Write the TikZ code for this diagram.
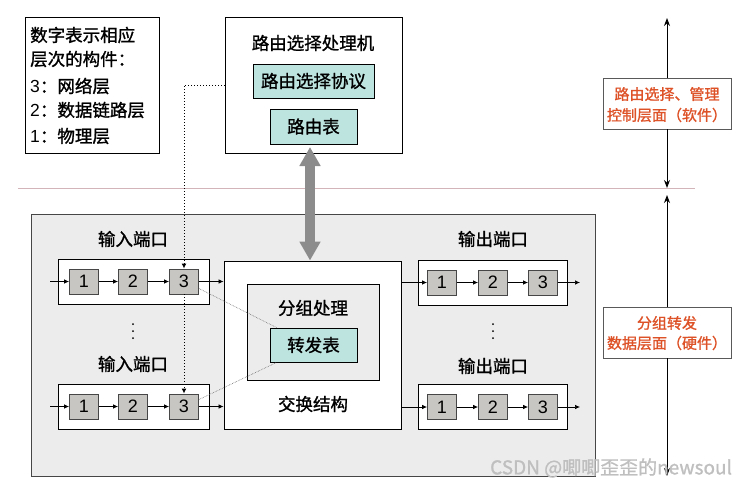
\documentclass[tikz,border=0pt]{standalone}
\usepackage{fontspec}
\setmainfont{Noto Sans CJK SC}[FakeBold=1.2]
\newfontfamily\digitfont{Liberation Sans}
\usetikzlibrary{arrows.meta}
\definecolor{teal1}{RGB}{190,228,224}
\definecolor{boxgray}{RGB}{200,198,194}
\definecolor{panelgray}{RGB}{236,236,236}
\definecolor{redtxt}{RGB}{222,82,40}
\definecolor{sepline}{RGB}{210,180,185}
\definecolor{edgegray}{RGB}{70,70,70}
\begin{document}
\begin{tikzpicture}[x=1pt,y=-1pt,
  txt/.style={inner sep=0pt,font=\fontsize{17.5}{19}\selectfont},
  frame/.style={draw=black,line width=0.9pt,inner sep=0pt},
  tealbox/.style={frame,fill=teal1,font=\fontsize{17.5}{19}\selectfont},
  digit/.style={draw=edgegray,line width=0.9pt,fill=boxgray,minimum width=29pt,minimum height=25pt,inner sep=0pt,font=\digitfont\fontsize{18}{19}\selectfont},
  port/.style={frame,fill=white,minimum width=151pt,minimum height=45pt},
  arr/.style={-{Latex[length=5pt,width=4.5pt]},line width=0.7pt},
  dotarr/.style={dotted,line width=1pt,-{Latex[length=5pt,width=5pt]}},
  thindot/.style={densely dotted,line width=0.6pt,draw=gray!80!black},
  bigarr/.style={line width=10pt,draw=gray!90,{Triangle[length=19pt,width=20pt]}-{Triangle[length=19pt,width=20pt]}},
  axarr/.style={-{Stealth[length=8pt,width=6pt]},line width=1pt},
  plane/.style={draw=gray!70!black,line width=0.8pt,fill=white,minimum width=128pt,minimum height=51pt,inner sep=0pt},
  redt/.style={inner sep=0pt,text=redtxt,font=\fontsize{15}{16}\selectfont},
  vdot/.style={fill=black,circle,inner sep=0pt,minimum size=2pt}
]
\useasboundingbox (0,0) rectangle (748,488);

% separator line
\coordinate (sl) at (18,188);
\coordinate (sr) at (695,188);
\draw[sepline,line width=0.8pt] (sl) -- (sr);

% legend
\node[frame,minimum width=134pt,minimum height=136pt] (leg) at (92,85) {};
\node[txt,anchor=west] (l1) at (30,35) {数字表示相应};
\node[txt,anchor=west] (l2) at (30,59) {层次的构件：};
\node[txt,anchor=west] (l3) at (30,86) {{\digitfont 3}：网络层};
\node[txt,anchor=west] (l4) at (30,110) {{\digitfont 2}：数据链路层};
\node[txt,anchor=west] (l5) at (30,136) {{\digitfont 1}：物理层};

% routing processor
\node[frame,fill=white,minimum width=177pt,minimum height=136pt] (proc) at (313.5,85) {};
\node[txt] (proct) at (313,43) {路由选择处理机};
\node[tealbox,minimum width=121pt,minimum height=34pt] (proto) at (313.5,81) {路由选择协议};
\node[tealbox,minimum width=87pt,minimum height=35pt] (rt) at (313.5,126.5) {路由表};

% data panel
\node[draw=edgegray,line width=0.9pt,fill=panelgray,minimum width=564pt,minimum height=262pt,inner sep=0pt] (panel) at (313,345) {};

% input ports
\node[txt] (inl1) at (133,239) {输入端口};
\node[txt] (inl2) at (133,364) {输入端口};
\node[port] (in1) at (133.5,281.5) {};
\node[port] (in2) at (133.5,406.5) {};
\node[digit] (a1) at (84,281.5) {1};
\node[digit] (a2) at (133,281.5) {2};
\node[digit] (a3) at (184,281.5) {3};
\node[digit] (c1) at (84,406.5) {1};
\node[digit] (c2) at (133,406.5) {2};
\node[digit] (c3) at (184,406.5) {3};
\node[vdot] (d1) at (133,324) {};
\node[vdot] (d2) at (133,331) {};
\node[vdot] (d3) at (133,338) {};

% switch fabric
\node[frame,fill=white,minimum width=177pt,minimum height=168pt] (sw) at (312.5,345) {};
\node[frame,fill=panelgray,minimum width=132pt,minimum height=96pt] (pp) at (313,332) {};
\node[txt] (ppt) at (313,308) {分组处理};
\node[tealbox,minimum width=87pt,minimum height=34pt] (fwd) at (313.5,345) {转发表};
\node[txt] (swt) at (313,404) {交换结构};

% output ports
\node[txt] (outl1) at (493,239) {输出端口};
\node[txt] (outl2) at (493,366) {输出端口};
\node[port,minimum width=149pt] (out1) at (492.5,282.5) {};
\node[port,minimum width=149pt] (out2) at (492.5,407) {};
\node[digit] (b1) at (442,282.5) {1};
\node[digit] (b2) at (493,282.5) {2};
\node[digit] (b3) at (543,282.5) {3};
\node[digit] (e1) at (442,407) {1};
\node[digit] (e2) at (493,407) {2};
\node[digit] (e3) at (543,407) {3};
\node[vdot] (f1) at (493,324) {};
\node[vdot] (f2) at (493,331) {};
\node[vdot] (f3) at (493,338) {};

% arrows inside ports
\coordinate (ia) at (50,281.5);
\coordinate (ic) at (50,406.5);
\coordinate (ob) at (580,282.5);
\coordinate (oe) at (580,407);
\draw[arr] (ia) -- (a1);
\draw[arr] (a1) -- (a2);
\draw[arr] (a2) -- (a3);
\draw[arr] (a3) -- (sw.west |- a3);
\draw[arr] (ic) -- (c1);
\draw[arr] (c1) -- (c2);
\draw[arr] (c2) -- (c3);
\draw[arr] (c3) -- (sw.west |- c3);
\draw[arr] (sw.east |- b1) -- (b1);
\draw[arr] (b1) -- (b2);
\draw[arr] (b2) -- (b3);
\draw[arr] (b3) -- (ob);
\draw[arr] (sw.east |- e1) -- (e1);
\draw[arr] (e1) -- (e2);
\draw[arr] (e2) -- (e3);
\draw[arr] (e3) -- (oe);

% dotted routing info
\draw[dotarr] (proc.west |- 0,85) -| (a3.north);
\draw[dotarr] (a3.south) -- (c3.north);
\draw[thindot] ([yshift=-7pt]a3.east) -- ([xshift=7pt]fwd.north west);
\draw[thindot] ([yshift=7pt]c3.east) -- ([xshift=7pt]fwd.south west);

% big gray arrow
\draw[bigarr] (310,147) -- (sw.north -| 310,0);

% right axis
\node[plane] (ctrl) at (667,103.5) {};
\node[redt] (ct1) at (667,94) {路由选择、管理};
\node[redt] (ct2) at (667,115) {控制层面（软件）};
\node[plane] (data) at (667,332.5) {};
\node[redt] (dt1) at (667,323) {分组转发};
\node[redt] (dt2) at (667,343) {数据层面（硬件）};
\coordinate (ax1) at (667,18);
\coordinate (ax2) at (667,188);
\coordinate (ax3) at (667,195);
\coordinate (ax4) at (667,476);
\draw[axarr] (ctrl.north) -- (ax1);
\draw[axarr] (ctrl.south) -- (ax2);
\draw[axarr] (data.north) -- (ax3);
\draw[axarr] (data.south) -- (ax4);

% watermark
\node[inner sep=0pt,anchor=west,text=gray!50,font=\fontsize{19}{20}\selectfont] (wm) at (490,468) {CSDN @唧唧歪歪的newsoul};
\end{tikzpicture}
\end{document}
